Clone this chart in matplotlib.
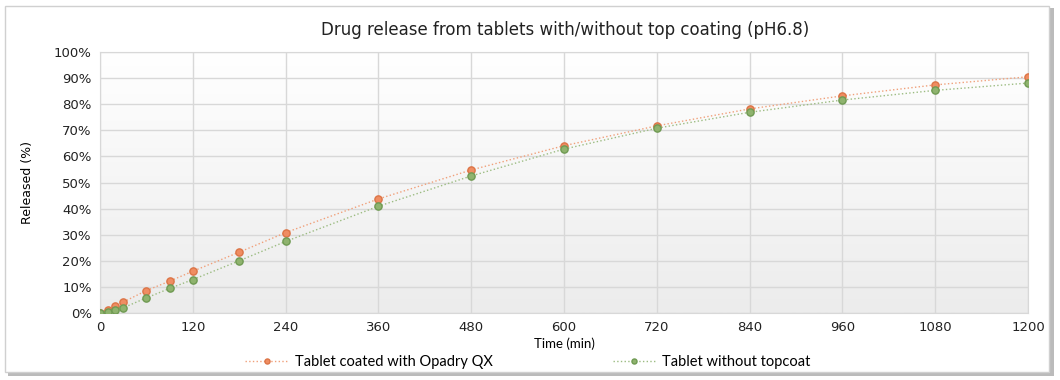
import numpy as np
import matplotlib.pyplot as plt
from matplotlib.patches import Rectangle
from matplotlib.ticker import PercentFormatter

# release data (% released)
time_min = [0, 10, 20, 30, 60, 90, 120, 180, 240, 360, 480, 600, 720, 840, 960, 1080, 1200]
coated = [0, 1.3, 2.6, 4.2, 8.6, 12.2, 16.0, 23.3, 30.8, 43.7, 54.8, 64.1, 71.7, 78.2, 83.2, 87.4, 90.5]
no_topcoat = [0, 0.3, 1.0, 2.0, 5.8, 9.4, 12.8, 20.0, 27.4, 40.9, 52.5, 62.8, 70.8, 76.9, 81.6, 85.3, 88.1]
xticks = list(range(0, 1201, 120))
yticks = list(range(0, 101, 10))

fig = plt.figure(figsize=(10.6, 3.8), dpi=100)

# outer frame with a little shadow
fig.patches.append(Rectangle((8/1060, 4/380), 1046/1060, 368/380, transform=fig.transFigure,
                             facecolor='#bbbbbb', edgecolor='none', zorder=0))
fig.patches.append(Rectangle((5/1060, 8/380), 1044/1060, 366/380, transform=fig.transFigure,
                             facecolor='white', edgecolor='#d0d0d0', lw=1, zorder=1))

ax = fig.add_axes([100/1060, 67/380, 928/1060, 261/380])
ax.set_zorder(2)

# vertical gradient background
grad = np.linspace(0, 1, 256).reshape(-1, 1)
ax.imshow(grad, extent=[0, 1200, 0, 100], aspect='auto', origin='lower',
          cmap=plt.matplotlib.colors.LinearSegmentedColormap.from_list('g', ['#ececec', '#ffffff']),
          zorder=0)

ax.plot(time_min, coated, ls=':', lw=1, color='#f0a07a', marker='o', ms=5.2,
        mfc='#ef8d62', mec='#dc7446', mew=1, label='Tablet coated with Opadry QX', zorder=3)
ax.plot(time_min, no_topcoat, ls=':', lw=1, color='#9cbc82', marker='o', ms=5.2,
        mfc='#8fb36e', mec='#6f9a52', mew=1, label='Tablet without topcoat', zorder=3)

ax.set_xlim(0, 1200)
ax.set_ylim(0, 100)
ax.set_xticks(xticks)
ax.set_yticks(yticks)
ax.yaxis.set_major_formatter(PercentFormatter(decimals=0))
ax.grid(True, color='#d8d8d8', lw=1)
ax.set_axisbelow(False)
for g in ax.get_xgridlines() + ax.get_ygridlines():
    g.set_zorder(1)
for s in ax.spines.values():
    s.set_color('#d8d8d8')
ax.tick_params(length=0, labelsize=9.5, colors='#222222', pad=6)
for lab in ax.get_xticklabels() + ax.get_yticklabels():
    lab.set_family('DejaVu Sans')

ax.set_xlabel('Time (min)', fontsize=9.5, family='Lato', labelpad=2)
ax.set_ylabel('Released (%)', fontsize=9, family='Liberation Sans Narrow', labelpad=14)
fig.text(565/1060, 1 - 30/380, 'Drug release from tablets with/without top coating (pH6.8)',
         ha='center', va='center', fontsize=12, family='DejaVu Sans', color='#222222')

leg = fig.legend(loc='center', bbox_to_anchor=(528/1060, 1 - 362/380), ncol=2, frameon=False,
                 prop={'family': 'Lato', 'size': 10.5}, columnspacing=8.2,
                 handlelength=3, handletextpad=0.4, markerscale=0.7)

fig.savefig('out.png', dpi=100)
